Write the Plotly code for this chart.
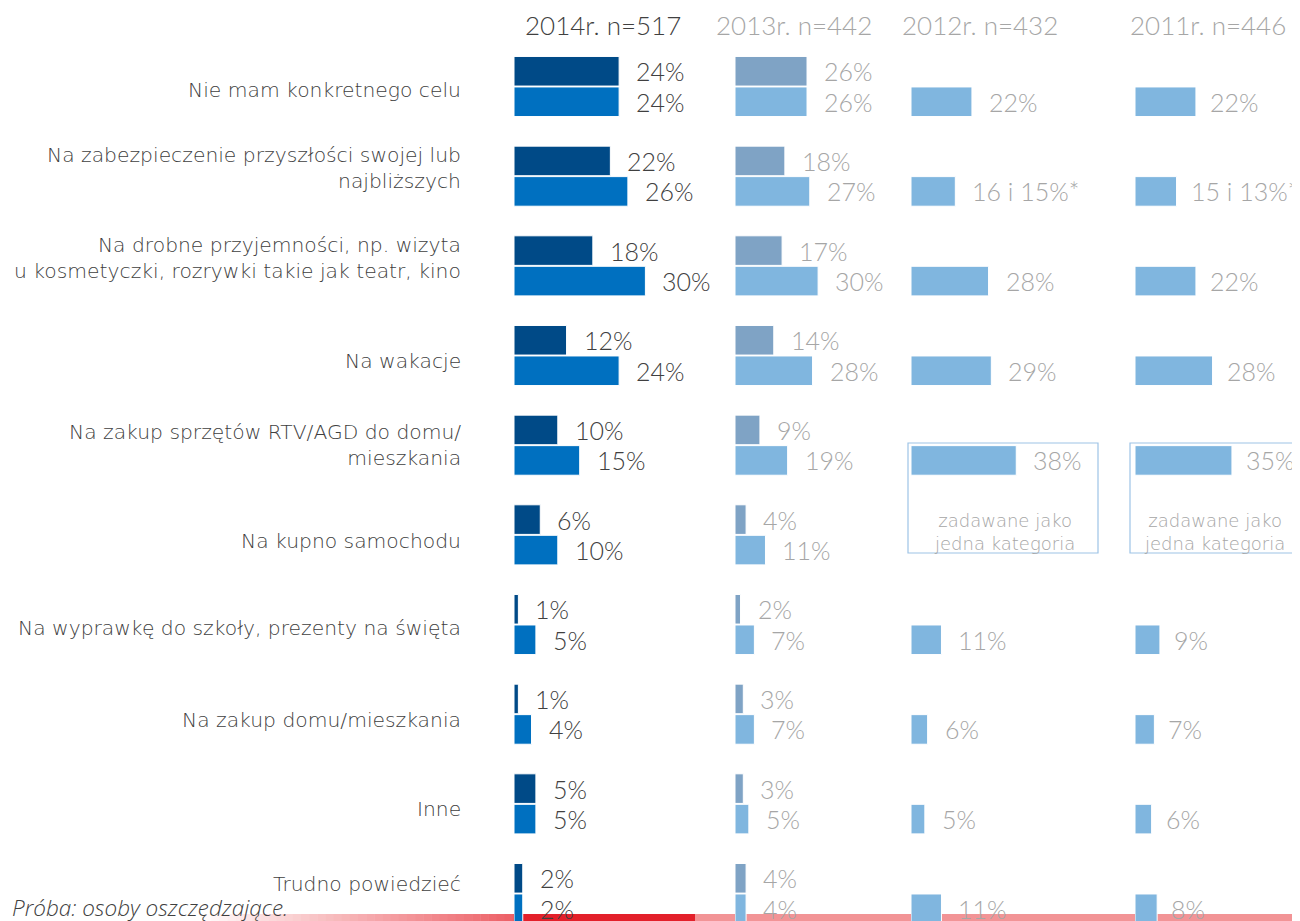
import plotly.graph_objects as go

# ---------------- data ----------------
categories = [
    "Nie mam konkretnego celu",
    "Na zabezpieczenie przyszłości swojej lub<br>najbliższych",
    "Na drobne przyjemności, np. wizyta<br>u kosmetyczki, rozrywki takie jak teatr, kino",
    "Na wakacje",
    "Na zakup sprzętów RTV/AGD do domu/<br>mieszkania",
    "Na kupno samochodu",
    "Na wyprawkę do szkoły, prezenty na święta",
    "Na zakup domu/mieszkania",
    "Inne",
    "Trudno powiedzieć",
]
headers = ["2014r. n=517", "2013r. n=442", "2012r. n=432", "2011r. n=446"]

v2014_a = [24, 22, 18, 12, 10, 6, 1, 1, 5, 2]
v2014_b = [24, 26, 30, 24, 15, 10, 5, 4, 5, 2]
v2013_a = [26, 18, 17, 14, 9, 4, 2, 3, 3, 4]
v2013_b = [26, 27, 30, 28, 19, 11, 7, 7, 5, 4]
v2012 = [22, 16, 28, 29, 38, None, 11, 6, 5, 11]
v2011 = [22, 15, 22, 28, 35, None, 9, 7, 6, 8]
t2012 = ["22%", "16 i 15%*", "28%", "29%", "38%", "", "11%", "6%", "5%", "11%"]
t2011 = ["22%", "15 i 13%*", "22%", "28%", "35%", "", "9%", "7%", "6%", "8%"]
box_note = "zadawane jako<br>jedna kategoria"
footnote = "Próba: osoby oszczędzające."

# ---------------- styling ----------------
# page body has an 8px margin; design in reference pixels and convert
OX, OY = 8, 8
W, H = 1300 - OX, 921 - OY

def px(x):
    return (x - OX) / W

def py(y):
    return 1 - (y - OY) / H

FONT_NUM = "Lato"
FONT_TXT = "DejaVu Sans"
C_DARK = "#004A87"
C_BLUE = "#0070C0"
C_GREYBLUE = "#7FA3C5"
C_LIGHT = "#80B6DF"
T_DARK = "#404040"
T_GREY = "#A6A6A6"
label_yshift = [-3, 8, 8, -5, 0, -6, -3, -6, -5, 10]

idx = list(range(len(categories)))
row0, pitch = 86.5 - OY, 89.67
y_top = -row0 / pitch
y_bot = (H - row0) / pitch

BW = 0.33
OFF_A, OFF_B = -0.335, 0.005

fig = go.Figure()

def add_bars(vals, axis, color, offset, name):
    fig.add_trace(go.Bar(
        x=vals, y=idx, orientation="h", xaxis=axis, yaxis="y",
        marker=dict(color=color, line=dict(color="white", width=1)),
        width=BW, offset=offset, name=name, showlegend=False,
        hoverinfo="x+name",
    ))

add_bars(v2014_a, "x", C_DARK, OFF_A, "2014 a")
add_bars(v2014_b, "x", C_BLUE, OFF_B, "2014 b")
add_bars(v2013_a, "x2", C_GREYBLUE, OFF_A, "2013 a")
add_bars(v2013_b, "x2", C_LIGHT, OFF_B, "2013 b")
add_bars(v2012, "x3", C_LIGHT, OFF_B, "2012")
add_bars(v2011, "x4", C_LIGHT, OFF_B, "2011")

annotations = []
ya = OFF_A + BW / 2
yb = OFF_B + BW / 2
LBL = 25

def add_labels(vals, texts, xref, yoff, color, xshift=15):
    for i, v in enumerate(vals):
        if v is None or texts[i] == "":
            continue
        annotations.append(dict(
            x=v, y=i + yoff, xref=xref, yref="y", text=texts[i],
            showarrow=False, xanchor="left", yanchor="middle", xshift=xshift,
            font=dict(family=FONT_NUM, size=LBL, color=color, weight=300),
        ))

pct = lambda vals: [f"{v}%" if v is not None else "" for v in vals]
add_labels(v2014_a, pct(v2014_a), "x", ya, T_DARK)
add_labels(v2014_b, pct(v2014_b), "x", yb, T_DARK)
add_labels(v2013_a, pct(v2013_a), "x2", ya, T_GREY)
add_labels(v2013_b, pct(v2013_b), "x2", yb, T_GREY)
add_labels(v2012, t2012, "x3", yb, T_GREY)
add_labels(v2011, t2011, "x4", yb, T_GREY, xshift=12)

# category labels
for i, c in enumerate(categories):
    annotations.append(dict(
        x=px(463), y=i, xref="paper", yref="y", text=c, showarrow=False,
        xanchor="right", yanchor="middle", align="right", yshift=label_yshift[i],
        font=dict(family=FONT_TXT, size=20.3, color=T_DARK, weight=200),
    ))

# headers
hdr_x = [523, 714, 900, 1128]
hdr_c = [T_DARK, T_GREY, T_GREY, T_GREY]
for hx, ht, hc in zip(hdr_x, headers, hdr_c):
    annotations.append(dict(
        x=px(hx), y=py(25), xref="paper", yref="paper", text=ht,
        showarrow=False, xanchor="left", yanchor="middle",
        font=dict(family=FONT_NUM, size=26, color=hc, weight=300),
    ))

# boxes "zadawane jako jedna kategoria"
shapes = []
for bx0, bx1, tx in [(908, 1098, 1004), (1130, 1310, 1214)]:
    shapes.append(dict(
        type="rect", xref="paper", yref="paper",
        x0=px(bx0), x1=px(bx1), y0=py(553), y1=py(443),
        line=dict(color="#9DC3E6", width=1.2), fillcolor="rgba(0,0,0,0)",
        layer="below",
    ))
    annotations.append(dict(
        x=px(tx), y=py(532), xref="paper", yref="paper",
        text=box_note, showarrow=False, xanchor="center", yanchor="middle",
        font=dict(family=FONT_TXT, size=18, color=T_GREY, weight=200),
    ))

# footnote
annotations.append(dict(
    x=px(10), y=py(907), xref="paper", yref="paper", text=f"<i>{footnote}</i>",
    showarrow=False, xanchor="left", yanchor="middle",
    font=dict(family="Open Sans", size=22.5, color=T_DARK, weight=300),
))

# decorative red footer strip with gradient
def mix(c1, c2, t):
    return "rgb(%d,%d,%d)" % tuple(round(a + (b - a) * t) for a, b in zip(c1, c2))

STRIP_TOP = 914
g0, g1, nseg = 195, 521, 40
for k in range(nseg):
    xa = g0 + (g1 - g0) * k / nseg
    xb = g0 + (g1 - g0) * (k + 1) / nseg + 0.5
    shapes.append(dict(type="rect", xref="paper", yref="paper",
                       x0=px(xa), x1=px(xb), y0=0, y1=py(STRIP_TOP), line=dict(width=0),
                       fillcolor=mix((255, 255, 255), (236, 90, 96), k / nseg), layer="below"))
shapes.append(dict(type="rect", xref="paper", yref="paper", x0=px(521), x1=px(695),
                   y0=0, y1=py(STRIP_TOP), line=dict(width=0), fillcolor="#E3202A", layer="below"))
shapes.append(dict(type="rect", xref="paper", yref="paper", x0=px(695), x1=1,
                   y0=0, y1=py(STRIP_TOP), line=dict(width=0), fillcolor="#F29496", layer="below"))

# axes
def xdom(start, scale, rng=40):
    return [px(start), px(start + scale * rng)]

ax = dict(showgrid=False, zeroline=False, showticklabels=False, showline=False,
          ticks="", range=[0, 40], fixedrange=True)
fig.update_layout(
    width=W, height=H,
    margin=dict(l=0, r=0, t=0, b=0),
    paper_bgcolor="white", plot_bgcolor="rgba(0,0,0,0)",
    barmode="overlay",
    xaxis=dict(domain=xdom(514, 4.38), anchor="y", **ax),
    xaxis2=dict(domain=xdom(735, 2.77), anchor="y", **ax),
    xaxis3=dict(domain=xdom(911, 2.77), anchor="y", **ax),
    xaxis4=dict(domain=xdom(1135, 2.77), anchor="y", **ax),
    yaxis=dict(domain=[0, 1], range=[y_bot, y_top], showgrid=False, zeroline=False,
               showticklabels=False, showline=False, ticks="", fixedrange=True),
    annotations=annotations,
    shapes=shapes,
    font=dict(family=FONT_TXT),
)

fig.write_html("out.html")
